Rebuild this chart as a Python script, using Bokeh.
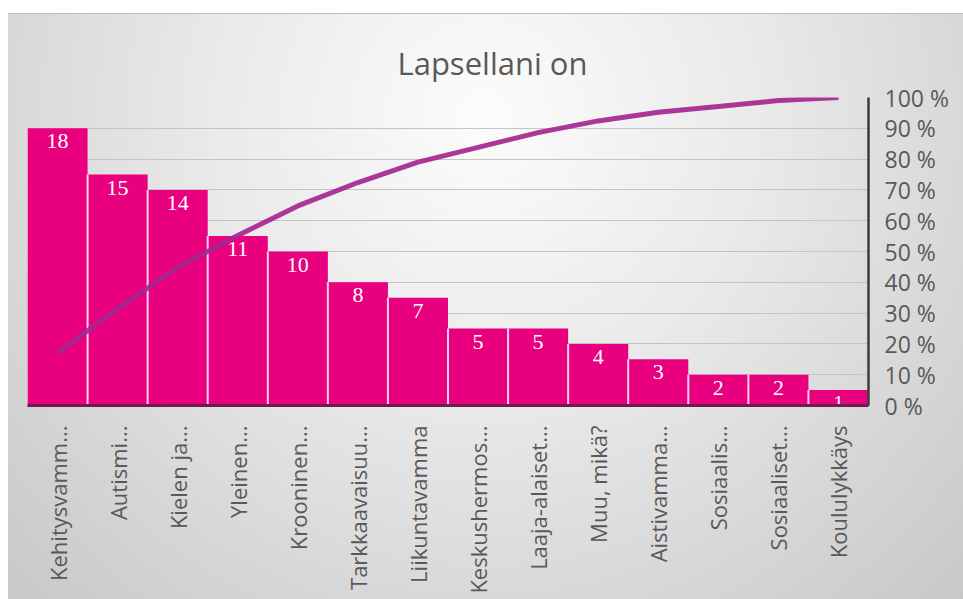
import math
from bokeh.plotting import figure
from bokeh.models import Range1d, LinearAxis, FixedTicker, PrintfTickFormatter, Grid, Spacer
from bokeh.layouts import column, row
from bokeh.core.properties import value
from bokeh.embed import file_html
from bokeh.resources import INLINE

title_text = "Lapsellani on"
categories = ["Kehitysvamm...", "Autismi...", "Kielen ja...", "Yleinen...", "Krooninen...",
              "Tarkkaavaisuu...", "Liikuntavamma", "Keskushermos...", "Laaja-alaiset...",
              "Muu, mikä?", "Aistivamma...", "Sosiaalis...", "Sosiaaliset...", "Koululykkäys"]
counts = [18, 15, 14, 11, 10, 8, 7, 5, 5, 4, 3, 2, 2, 1]
cum_pct = [17.1, 31.4, 44.8, 55.2, 64.8, 72.4, 79.0, 83.8, 88.6, 92.4, 95.2, 97.1, 99.0, 100.0]
pct_ticks = [0, 10, 20, 30, 40, 50, 60, 70, 80, 90, 100]

n = len(categories)
xs = [i + 0.5 for i in range(n)]

GRAY = "#595959"

p = figure(width=955, height=586, x_range=Range1d(0, n), y_range=Range1d(0, 20),
           output_backend="svg", toolbar_location=None, y_axis_location=None,
           min_border_left=19, min_border_right=95, min_border_top=84, min_border_bottom=194)
p.extra_y_ranges = {"pct": Range1d(0, 100)}
p.border_fill_color = None
p.background_fill_color = None
p.styles = {"background": "radial-gradient(ellipse farthest-corner at 50% 18%, #fcfcfc 0%, #eaeaea 40%, #d6d6d6 75%, #c8c8c8 100%)",
            "box-shadow": "inset 0 1px 0 #bdbdbd"}
p.outline_line_color = None
p.xgrid.visible = False
for g in p.ygrid:
    g.visible = False

grid = Grid(dimension=1, y_range_name="pct", ticker=FixedTicker(ticks=pct_ticks),
            grid_line_color="#c4c4c4", grid_line_width=1)
p.add_layout(grid, "center")

p.vbar(x=xs, top=counts, bottom=0, width=1.0, fill_color="#e8007f", line_color=None)
# separators between bars
sep_x = [xs[i] + 0.5 for i in range(n - 1)]
sep_top = [min(counts[i], counts[i + 1]) for i in range(n - 1)]
p.segment(x0=sep_x, y0=[0] * (n - 1), x1=sep_x, y1=sep_top, line_color="#fbd2ea", line_width=2)

p.line(xs, cum_pct, y_range_name="pct", line_color="#a5268f", line_width=5, line_alpha=0.92)

p.text(x=xs, y=counts, text=[str(c) for c in counts], text_font=value("Liberation Serif"),
       text_font_size="22px", text_color="white", text_align="center", text_baseline="top",
       y_offset=6)

# bottom axis
xa = p.xaxis[0]
xa.ticker = FixedTicker(ticks=xs)
xa.major_label_overrides = {x: c for x, c in zip(xs, categories)}
xa.major_label_orientation = math.pi / 2
xa.major_label_text_font = "Open Sans"
xa.major_label_text_font_size = "22px"
xa.major_label_text_color = GRAY
xa.major_label_standoff = 14
xa.axis_line_color = "#6e1a55"
xa.axis_line_width = 3
xa.major_tick_line_color = None
xa.minor_tick_line_color = None

ra = LinearAxis(y_range_name="pct", ticker=FixedTicker(ticks=pct_ticks),
                formatter=PrintfTickFormatter(format="%d %%"))
ra.axis_line_color = "#3c3c3c"
ra.axis_line_width = 2.5
ra.major_tick_line_color = None
ra.major_tick_out = 0
ra.major_tick_in = 0
ra.minor_tick_line_color = None
ra.major_label_text_font = "Open Sans"
ra.major_label_text_font_size = "23px"
ra.major_label_text_color = GRAY
ra.major_label_standoff = 16
p.add_layout(ra, "right")

p.title.text = title_text
p.title.text_font = "Open Sans"
p.title.text_font_size = "31px"
p.title.text_font_style = "normal"
p.title.text_color = GRAY
p.title.text_line_height = 1.0
p.title.align = "left"
p.title.vertical_align = "top"
p.title.offset = 370
p.title.standoff = 24

layout = column(Spacer(height=13), row(Spacer(width=8), p))
open("out.html", "w").write(file_html(layout, INLINE))
